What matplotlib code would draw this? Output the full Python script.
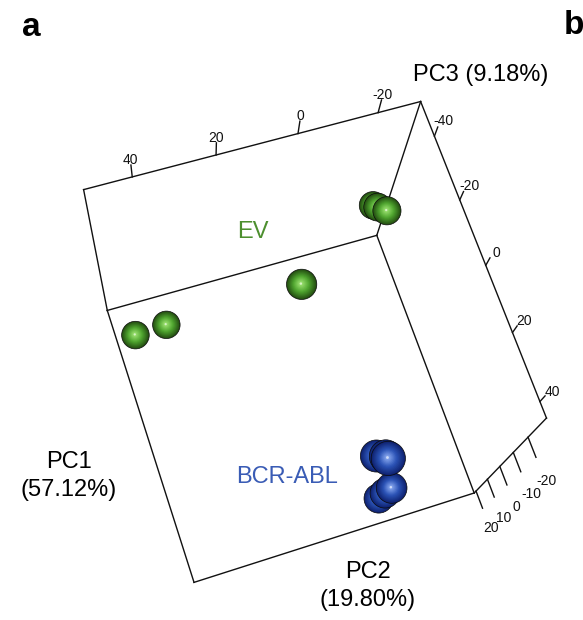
import numpy as np
import matplotlib
matplotlib.use("Agg")
import matplotlib.pyplot as plt
import matplotlib.colors as mcolors
from matplotlib.patches import Circle

plt.rcParams["font.family"] = ["Liberation Sans", "DejaVu Sans"]

# PCA scores (PC1, PC2, PC3) per sample
group = ["EV"] * 6 + ["BCR-ABL"] * 6
pc1 = [-50.5, -47.4, -44.0, -22.0, -36.0, -36.5, 35.5, 38.0, 41.4, 42.5, 41.4, 41.5]
pc2 = [-26.0, -25.8, -27.0, 5.0, 46.5, 37.5, 3.5, 3.0, 5.2, -0.5, -0.6, 0.5]
pc3 = [5.0, 2.0, 0.0, -10.0, 15.0, 15.0, -15.0, -20.0, -28.0, -5.0, 2.0, 5.0]

# bounding box and tick marks
pc1_range = (-51.1, 44.7)
pc2_range = (-30.8, 51.4)
pc3_range = (-31.3, 21.7)
pc1_ticks = [-40, -20, 0, 20, 40]
pc2_ticks = [40, 20, 0, -20]
pc3_ticks = [-20, -10, 0, 10, 20]

# perspective view matrix (data -> pixel), matching the saved rgl view
view = np.array([
    [0.8789408, -3.783695, 0.8446339, 338.6625],
    [2.770623, 0.8825962, 3.303491, 364.8012],
    [-0.0005853286, -0.0005037241, 0.004244785, 1.0],
])


def project(x, y, z):
    p = view @ np.array([x, y, z, 1.0])
    return p[0] / p[2], p[1] / p[2], p[2]


def corner(i, j, k):
    return (pc1_range[i], pc2_range[j], pc3_range[k])


fig = plt.figure(figsize=(5.83, 6.2), dpi=100)
ax = fig.add_axes([0, 0, 1, 1])
ax.set_xlim(0, 583)
ax.set_ylim(620, 0)
ax.axis("off")

# back walls of the bounding box
edges = [((0, 1, 0), (0, 0, 0)), ((0, 0, 0), (0, 0, 1)), ((0, 0, 1), (0, 1, 1)),
         ((0, 1, 1), (0, 1, 0)), ((0, 1, 1), (1, 1, 1)), ((1, 1, 1), (1, 0, 1)),
         ((1, 0, 1), (0, 0, 1)), ((0, 0, 0), (1, 0, 0)), ((1, 0, 0), (1, 0, 1))]
for a, b in edges:
    pa, pb = project(*corner(*a)), project(*corner(*b))
    ax.plot([pa[0], pb[0]], [pa[1], pb[1]], color="#111111", lw=1.0, zorder=1)


def tick(p0, p1, lab_pt, label, off=(0, 0)):
    a, b, c = project(*p0), project(*p1), project(*lab_pt)
    ax.plot([a[0], b[0]], [a[1], b[1]], color="#111111", lw=1.0, zorder=1)
    ax.annotate(label, (c[0], c[1]), xytext=off, textcoords="offset points",
                ha="center", va="center", fontsize=10, color="#111111")


for t in pc2_ticks:
    tick((pc1_range[0], t, pc3_range[0]), (pc1_range[0], t, pc3_range[0] - 4),
         (pc1_range[0], t, pc3_range[0] - 5.5), str(t))
for t in pc1_ticks:
    tick((t, pc2_range[0], pc3_range[0]), (t, pc2_range[0], pc3_range[0] - 3),
         (t, pc2_range[0], pc3_range[0] - 5), str(t), off=(2.5, 0))
for t in pc3_ticks:
    tick((pc1_range[1], pc2_range[0], t), (pc1_range[1] + 6, pc2_range[0], t),
         (pc1_range[1] + 13, pc2_range[0], t), str(t), off=(1, 0))

# shaded spheres, far ones first
colors = {"EV": ("#244f12", "#4fa52f", "#9be070"),
          "BCR-ABL": ("#0f2270", "#2a52b5", "#86a6ee")}
w_mid = project(np.mean(pc1_range), np.mean(pc2_range), np.mean(pc3_range))[2]
items = []
for x, y, z, g in zip(pc1, pc2, pc3, group):
    u, v, w = project(x, y, z)
    items.append((w, u, v, g))
items.sort(key=lambda it: -it[0])
for i, (w, u, v, g) in enumerate(items):
    r = 15 * w_mid / w
    dark, mid, light = [np.array(mcolors.to_rgb(c)) for c in colors[g]]
    zo = 5 + i
    ax.add_patch(Circle((u, v), r, facecolor=dark, edgecolor="#0a0a0a", lw=0.5, zorder=zo))
    n = 14
    for k in range(1, n):
        t = k / (n - 1)
        col = dark + (mid - dark) * min(1, 2 * t) + (light - mid) * max(0, 2 * t - 1)
        ax.add_patch(Circle((u - 0.05 * r * t, v - 0.05 * r * t), r * (1 - 0.9 * t),
                            color=col, lw=0, zorder=zo))
    ax.add_patch(Circle((u - 0.05 * r, v - 0.05 * r), 0.08 * r, color="white",
                        alpha=0.6, lw=0, zorder=zo))

ax.text(31, 27, "a", fontsize=24, fontweight="bold", ha="center", va="center")
ax.text(574, 25, "b", fontsize=24, fontweight="bold", ha="center", va="center")
ax.text(481, 75, "PC3 (9.18%)", fontsize=17, ha="center", va="center")
ax.text(69, 476, "PC1\n(57.12%)", fontsize=17, ha="center", va="center", linespacing=1.35)
ax.text(368, 586, "PC2\n(19.80%)", fontsize=17, ha="center", va="center", linespacing=1.35)
ax.text(253, 232, "EV", fontsize=17, ha="center", va="center", color="#4d8f2f")
ax.text(287, 477, "BCR-ABL", fontsize=17, ha="center", va="center", color="#3a5cb5")

fig.savefig("out.png", dpi=100)
